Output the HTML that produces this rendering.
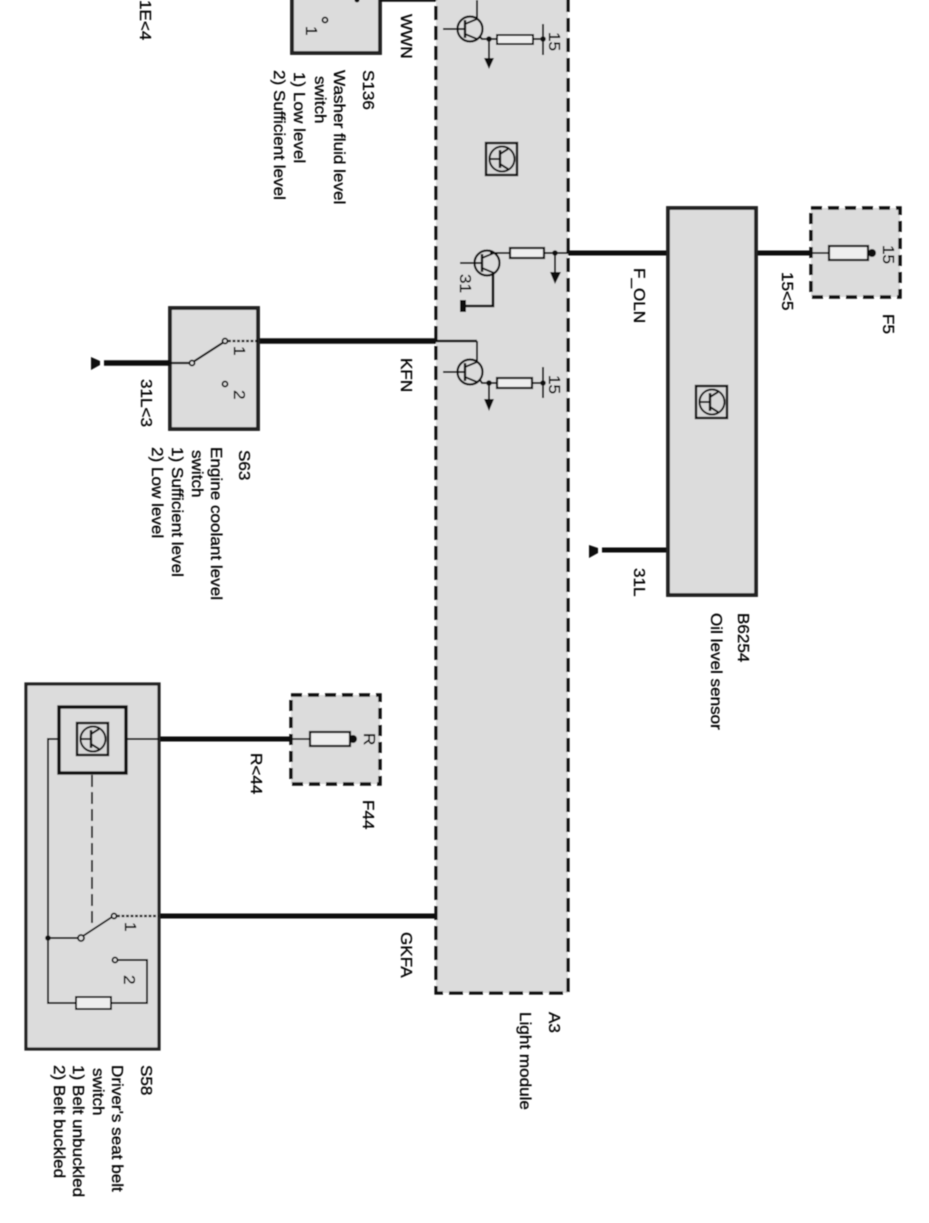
<!DOCTYPE html>
<html><head><meta charset="utf-8"><style>
html,body{margin:0;padding:0;background:#fff;width:929px;height:1223px;overflow:hidden}
svg{display:block}
text{font-family:"Liberation Sans",sans-serif;font-size:16px;fill:#000;stroke:#000;stroke-width:.3px}
</style></head><body>
<svg width="929" height="1223" viewBox="0 0 929 1223" xmlns="http://www.w3.org/2000/svg">
<defs>
<filter id="b" x="-2%" y="-2%" width="104%" height="104%"><feGaussianBlur stdDeviation="0.45"/></filter>
<g id="tr" fill="none" stroke="#111" stroke-width="2.2">
<circle cx="0" cy="0" r="12.5"/>
<line x1="-5" y1="-9" x2="-5" y2="9" stroke-width="2.4"/>
<path d="M-5 -5L7 -10M-5 5L7 10" stroke-width="2"/>
</g>
<g id="icon" fill="none" stroke="#111" stroke-width="2">
<rect x="0" y="0" width="31" height="32" fill="#d8d8d8" stroke-width="2.4"/>
<circle cx="16" cy="16" r="12.5"/>
<line x1="3" y1="16" x2="14" y2="16"/>
<line x1="14" y1="7" x2="14" y2="25" stroke-width="2.4"/>
<path d="M14 11 L22 6 M14 21 L22 26"/>
</g>
</defs>
<g filter="url(#b)">
<!-- Light module -->
<rect x="436" y="-10" width="132" height="1003" fill="#dcdcdc" stroke="#111" stroke-width="3.2" stroke-dasharray="14 6"/>
<!-- S136 -->
<rect x="292" y="-10" width="88" height="63" fill="#dcdcdc" stroke="#222" stroke-width="3.8"/>
<circle cx="325" cy="20" r="2.5" fill="#dcdcdc" stroke="#111" stroke-width="1.8"/>
<circle cx="357" cy="0" r="2.5" fill="#111"/>
<path d="M380 0.5H436" stroke="#111" stroke-width="2.5" fill="none"/>
<!-- top transistor -->
<use href="#tr" x="470" y="29"/>
<path d="M443 29H465M477 0V20M480 37L482 39H497M533 39H543M543 24V55M489 39V60" stroke="#111" stroke-width="2" fill="none"/>
<rect x="497" y="35" width="36" height="9" fill="#eee" stroke="#111" stroke-width="2"/>
<circle cx="489" cy="39" r="2.8" fill="#111"/><circle cx="543" cy="39" r="2.8" fill="#111"/>
<path d="M484 58H494L489 69Z" fill="#111"/>
<!-- icon in A3 -->
<use href="#icon" x="486" y="143"/>
<!-- mid transistor -->
<use href="#tr" x="487" y="263"/>
<path d="M460 263H482M490 253H510M544 253H568M555 253V275" stroke="#111" stroke-width="2" fill="none"/>
<path d="M493 272V306H466" stroke="#111" stroke-width="2.6" fill="none"/>
<rect x="510" y="248" width="34" height="10" fill="#eee" stroke="#111" stroke-width="2.2"/>
<circle cx="555" cy="253" r="2.8" fill="#111"/>
<path d="M550 272H561L555 284Z" fill="#111"/>
<rect x="460" y="300" width="6" height="12" fill="#111"/>
<!-- bottom transistor -->
<use href="#tr" x="470" y="372"/>
<path d="M443 372H465M477 362V341M480 380L482 383H497M532 383H543M543 367V398M489 383V402" stroke="#111" stroke-width="2" fill="none"/>
<rect x="497" y="378" width="35" height="10" fill="#eee" stroke="#111" stroke-width="2.2"/>
<circle cx="489" cy="383" r="2.8" fill="#111"/><circle cx="543" cy="383" r="2.8" fill="#111"/>
<path d="M484 399H494L489 411Z" fill="#111"/>
<!-- wires -->
<path d="M568 253H668M756 253H811" stroke="#111" stroke-width="5" fill="none"/>
<path d="M436 341H477" stroke="#111" stroke-width="2.5" fill="none"/>
<path d="M258 341H436" stroke="#111" stroke-width="5.5" fill="none"/>
<path d="M159 916H436" stroke="#111" stroke-width="5" fill="none"/>
<path d="M159 739H291" stroke="#111" stroke-width="5" fill="none"/>
<path d="M602 550H668" stroke="#111" stroke-width="5" fill="none"/>
<path d="M589 545L598 548V553L589 558Z" fill="#111"/>
<!-- B6254 -->
<rect x="668" y="208" width="88" height="387" fill="#dcdcdc" stroke="#222" stroke-width="3.8"/>
<use href="#icon" x="696" y="386"/>
<!-- F5 -->
<rect x="811" y="208" width="89" height="89" fill="#dcdcdc" stroke="#111" stroke-width="3.4" stroke-dasharray="11 6"/>
<path d="M811 253H875" stroke="#111" stroke-width="1.8"/>
<rect x="829" y="246" width="39" height="14" fill="#eee" stroke="#111" stroke-width="2.2"/>
<circle cx="872" cy="253" r="4" fill="#111"/>
<!-- S63 -->
<rect x="170" y="308" width="88" height="121" fill="#dcdcdc" stroke="#222" stroke-width="3.8"/>
<path d="M104 363H170" stroke="#111" stroke-width="5.5"/>
<path d="M91 357L100 361V365L91 370Z" fill="#111"/>
<path d="M170 363H190M193 362L224 342" stroke="#111" stroke-width="2.2" fill="none"/>
<path d="M228 341H258" stroke="#111" stroke-width="2.2" stroke-dasharray="3 1.5"/>
<circle cx="192" cy="363" r="2.5" fill="#dcdcdc" stroke="#111" stroke-width="1.8"/>
<circle cx="225" cy="341" r="2.5" fill="#dcdcdc" stroke="#111" stroke-width="1.8"/>
<circle cx="225" cy="384" r="2.5" fill="#dcdcdc" stroke="#111" stroke-width="1.8"/>
<!-- S58 -->
<rect x="26" y="684" width="133" height="365" fill="#dcdcdc" stroke="#222" stroke-width="3.2"/>
<rect x="59" y="707" width="67" height="66" fill="#dcdcdc" stroke="#111" stroke-width="3.4"/>
<use href="#icon" x="77" y="723"/>
<path d="M126 739H159M59 739H48V1003H76M111 1003H147V960H117M48 938H79M83 936L112 917" stroke="#111" stroke-width="1.9" fill="none"/>
<path d="M117 916H159" stroke="#111" stroke-width="2.2" stroke-dasharray="3 1.5"/>
<path d="M92 775V925" stroke="#111" stroke-width="1.9" stroke-dasharray="12 5"/>
<rect x="76" y="997" width="35" height="12" fill="#eee" stroke="#111" stroke-width="1.9"/>
<circle cx="48" cy="938" r="2.8" fill="#111"/>
<circle cx="81" cy="938" r="3" fill="#dcdcdc" stroke="#111" stroke-width="1.8"/>
<circle cx="114" cy="916" r="2.5" fill="#dcdcdc" stroke="#111" stroke-width="1.8"/>
<circle cx="115" cy="960" r="2.5" fill="#dcdcdc" stroke="#111" stroke-width="1.8"/>
<!-- F44 -->
<rect x="291" y="695" width="89" height="89" fill="#dcdcdc" stroke="#111" stroke-width="3.4" stroke-dasharray="11 6"/>
<path d="M291 739H355" stroke="#111" stroke-width="1.8"/>
<rect x="310" y="732" width="40" height="14" fill="#eee" stroke="#111" stroke-width="2.2"/>
<circle cx="353" cy="739" r="4" fill="#111"/>
<!-- labels -->
<text transform="translate(140,0) rotate(90) scale(1.07,1)">1E&lt;4</text>
<text transform="translate(401,14) rotate(90) scale(1.07,1)">WWN</text>
<text transform="translate(401,358) rotate(90) scale(1.07,1)">KFN</text>
<text transform="translate(401,932) rotate(90) scale(1.07,1)">GKFA</text>
<text transform="translate(251,753) rotate(90) scale(1.07,1)">R&lt;44</text>
<text transform="translate(141,379) rotate(90) scale(1.07,1)">31L&lt;3</text>
<text transform="translate(634,268) rotate(90) scale(1.07,1)">F_OLN</text>
<text transform="translate(634,568) rotate(90) scale(1.07,1)">31L</text>
<text transform="translate(782,272) rotate(90) scale(1.07,1)">15&lt;5</text>
<text transform="translate(883,314) rotate(90) scale(1.07,1)">F5</text>
<text transform="translate(883,245) rotate(90) scale(1.07,1)">15</text>
<text transform="translate(549,32) rotate(90) scale(1.07,1)">15</text>
<text transform="translate(549,375) rotate(90) scale(1.07,1)">15</text>
<text transform="translate(460,274) rotate(90) scale(1.07,1)">31</text>
<text transform="translate(364,733) rotate(90) scale(1.07,1)">R</text>
<text transform="translate(363,800) rotate(90) scale(1.07,1)">F44</text>
<text transform="translate(306,26) rotate(90) scale(1.07,1)">1</text>
<text transform="translate(234,346) rotate(90) scale(1.07,1)">1</text>
<text transform="translate(234,390) rotate(90) scale(1.07,1)">2</text>
<text transform="translate(125,922) rotate(90) scale(1.07,1)">1</text>
<text transform="translate(124,975) rotate(90) scale(1.07,1)">2</text>
<text transform="translate(363,70) rotate(90) scale(1.07,1)">S136</text>
<text transform="translate(334,70) rotate(90) scale(1.07,1)">Washer fluid level</text>
<text transform="translate(315,76) rotate(90) scale(1.07,1)">switch</text>
<text transform="translate(294,72) rotate(90) scale(1.07,1)">1) Low level</text>
<text transform="translate(274,70) rotate(90) scale(1.07,1)">2) Sufficient level</text>
<text transform="translate(239,450) rotate(90) scale(1.07,1)">S63</text>
<text transform="translate(211,447) rotate(90) scale(1.07,1)">Engine coolant level</text>
<text transform="translate(192,450) rotate(90) scale(1.07,1)">switch</text>
<text transform="translate(172,447) rotate(90) scale(1.07,1)">1) Sufficient level</text>
<text transform="translate(152,447) rotate(90) scale(1.07,1)">2) Low level</text>
<text transform="translate(738,613) rotate(90) scale(1.07,1)">B6254</text>
<text transform="translate(711,613) rotate(90) scale(1.07,1)">Oil level sensor</text>
<text transform="translate(549,1012) rotate(90) scale(1.07,1)">A3</text>
<text transform="translate(520,1012) rotate(90) scale(1.07,1)">Light module</text>
<text transform="translate(141,1065) rotate(90) scale(1.07,1)">S58</text>
<text transform="translate(112,1065) rotate(90) scale(1.07,1)">Driver's seat belt</text>
<text transform="translate(93,1068) rotate(90) scale(1.07,1)">switch</text>
<text transform="translate(73,1065) rotate(90) scale(1.07,1)">1) Belt unbuckled</text>
<text transform="translate(54,1065) rotate(90) scale(1.07,1)">2) Belt buckled</text>
</g>
</svg>
</body></html>
